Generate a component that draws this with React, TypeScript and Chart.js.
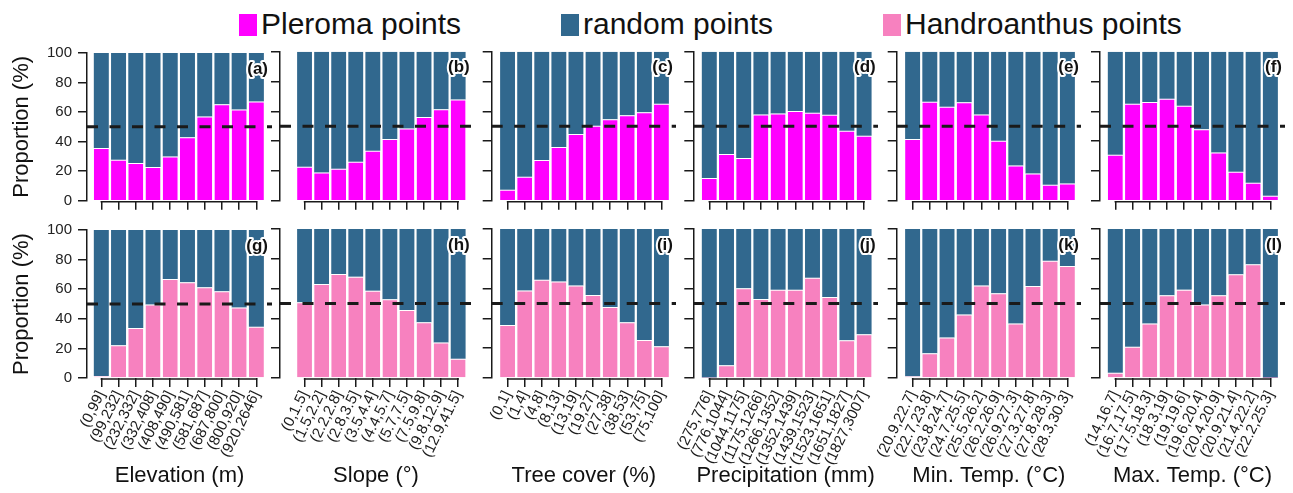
import React, { useEffect, useRef } from 'react';
import { Chart, registerables } from 'chart.js';

Chart.register(...registerables);

// ---------- categories (bins) ----------
const elevationBins = ['(0,99]', '(99,232]', '(232,332]', '(332,408]', '(408,490]', '(490,581]', '(581,687]', '(687,800]', '(800,920]', '(920,2646]'];
const slopeBins = ['(0,1.5]', '(1.5,2.2]', '(2.2,2.8]', '(2.8,3.5]', '(3.5,4.4]', '(4.4,5.7]', '(5.7,7.5]', '(7.5,9.8]', '(9.8,12.9]', '(12.9,41.5]'];
const treeCoverBins = ['(0,1]', '(1,4]', '(4,8]', '(8,13]', '(13,19]', '(19,27]', '(27,38]', '(38,53]', '(53,75]', '(75,100]'];
const precipBins = ['(275,776]', '(776,1044]', '(1044,1175]', '(1175,1266]', '(1266,1352]', '(1352,1439]', '(1439,1523]', '(1523,1651]', '(1651,1827]', '(1827,3007]'];
const minTempBins = ['(20.9,22.7]', '(22.7,23.8]', '(23.8,24.7]', '(24.7,25.5]', '(25.5,26.2]', '(26.2,26.9]', '(26.9,27.3]', '(27.3,27.8]', '(27.8,28.3]', '(28.3,30.3]'];
const maxTempBins = ['(14,16.7]', '(16.7,17.5]', '(17.5,18.3]', '(18.3,19]', '(19,19.6]', '(19.6,20.4]', '(20.4,20.9]', '(20.9,21.4]', '(21.4,22.2]', '(22.2,25.3]'];

const yTicks = [0, 20, 40, 60, 80, 100];
const referenceLine = 50;

// ---------- Pleroma vs random (%) ----------
const pleromaElevation = [35.6, 27.7, 25.5, 22.8, 30.0, 43.0, 57.0, 65.3, 61.7, 67.1];
const randomElevationP = [64.4, 72.3, 74.5, 77.2, 70.0, 57.0, 43.0, 34.7, 38.3, 32.9];
const pleromaSlope = [22.8, 19.0, 21.5, 26.2, 33.6, 41.4, 48.5, 56.2, 61.3, 68.0];
const randomSlopeP = [77.2, 81.0, 78.5, 73.8, 66.4, 58.6, 51.5, 43.8, 38.7, 32.0];
const pleromaTree = [7.4, 16.1, 27.3, 36.0, 44.7, 50.3, 54.6, 57.3, 59.3, 65.1];
const randomTreeP = [92.6, 83.9, 72.7, 64.0, 55.3, 49.7, 45.4, 42.7, 40.7, 34.9];
const pleromaPrecip = [15.2, 31.3, 28.6, 57.9, 58.6, 60.2, 59.1, 57.7, 47.0, 43.6];
const randomPrecipP = [84.8, 68.7, 71.4, 42.1, 41.4, 39.8, 40.9, 42.3, 53.0, 56.4];
const pleromaMinTemp = [41.4, 66.4, 63.1, 66.0, 57.9, 40.3, 23.7, 18.3, 10.7, 11.6];
const randomMinTempP = [58.6, 33.6, 36.9, 34.0, 42.1, 59.7, 76.3, 81.7, 89.3, 88.4];
const pleromaMaxTemp = [30.9, 65.1, 66.2, 68.5, 63.8, 47.9, 32.4, 19.5, 12.1, 3.4];
const randomMaxTempP = [69.1, 34.9, 33.8, 31.5, 36.2, 52.1, 67.6, 80.5, 87.9, 96.6];

// ---------- Handroanthus vs random (%) ----------
const handroElevation = [1.3, 22.1, 33.8, 49.7, 66.9, 64.7, 61.3, 58.6, 47.7, 34.7];
const randomElevationH = [98.7, 77.9, 66.2, 50.3, 33.1, 35.3, 38.7, 41.4, 52.3, 65.3];
const handroSlope = [50.8, 63.1, 69.8, 68.0, 58.6, 52.8, 45.6, 37.4, 23.9, 13.0];
const randomSlopeH = [49.2, 36.9, 30.2, 32.0, 41.4, 47.2, 54.4, 62.6, 76.1, 87.0];
const handroTree = [35.6, 58.8, 66.0, 64.7, 62.0, 55.7, 47.7, 37.4, 25.5, 21.3];
const randomTreeH = [64.4, 41.2, 34.0, 35.3, 38.0, 44.3, 52.3, 62.6, 74.5, 78.7];
const handroPrecip = [0.3, 8.5, 60.2, 53.0, 59.3, 59.3, 67.3, 54.4, 25.3, 29.3];
const randomPrecipH = [99.7, 91.5, 39.8, 47.0, 40.7, 40.7, 32.7, 45.6, 74.7, 70.7];
const handroMinTemp = [1.1, 16.6, 27.1, 42.7, 62.0, 56.8, 36.5, 61.7, 78.7, 75.2];
const randomMinTempH = [98.9, 83.4, 72.9, 57.3, 38.0, 43.2, 63.5, 38.3, 21.3, 24.8];
const handroMaxTemp = [3.6, 21.0, 36.5, 55.5, 59.3, 49.4, 55.5, 69.6, 76.3, 0.2];
const randomMaxTempH = [96.4, 79.0, 63.5, 44.5, 40.7, 50.6, 44.5, 30.4, 23.7, 99.8];

const xTitles = ['Elevation (m)', 'Slope (°)', 'Tree cover (%)', 'Precipitation (mm)', 'Min. Temp. (°C)', 'Max. Temp. (°C)'];
const binsByColumn = [elevationBins, slopeBins, treeCoverBins, precipBins, minTempBins, maxTempBins];
const topMain = [pleromaElevation, pleromaSlope, pleromaTree, pleromaPrecip, pleromaMinTemp, pleromaMaxTemp];
const topRest = [randomElevationP, randomSlopeP, randomTreeP, randomPrecipP, randomMinTempP, randomMaxTempP];
const bottomMain = [handroElevation, handroSlope, handroTree, handroPrecip, handroMinTemp, handroMaxTemp];
const bottomRest = [randomElevationH, randomSlopeH, randomTreeH, randomPrecipH, randomMinTempH, randomMaxTempH];
const topLetters = ['(a)', '(b)', '(c)', '(d)', '(e)', '(f)'];
const bottomLetters = ['(g)', '(h)', '(i)', '(j)', '(k)', '(l)'];

// ---------- layout / style ----------
const FONT = "'Liberation Sans', Arial, Helvetica, sans-serif";
const COLOR_PLEROMA = '#ff00ff';
const COLOR_RANDOM = '#31688e';
const COLOR_HANDRO = '#f781bf';
const INK = '#1a1a1a';
const W = 1293;
const H = 493;

const COLS = [
  { axis: 87, b0: 92.7, b1: 265, right: 272 },
  { axis: 280, b0: 296, b1: 466.7, right: 472 },
  { axis: 491.7, b0: 499, b1: 670, right: 676 },
  { axis: 693.3, b0: 700.7, b1: 872.7, right: 878 },
  { axis: 896.7, b0: 904, b1: 1076, right: 1081 },
  { axis: 1100, b0: 1106.7, b1: 1279, right: 1285 },
];
const ROWS = [
  { top: 51.7, bottom: 200.7 },
  { top: 229, bottom: 378 },
];

type PanelProps = {
  row: number;
  col: number;
  labels: string[];
  main: number[];
  rest: number[];
  mainLabel: string;
  mainColor: string;
  letter: string;
};

function Panel({ row, col, labels, main, rest, mainLabel, mainColor, letter }: PanelProps) {
  const ref = useRef<HTMLCanvasElement | null>(null);
  const c = COLS[col];
  const r = ROWS[row];
  const cLeft = col === 0 ? 0 : Math.round(c.axis - 72);
  const cRight = Math.round(c.right + 8);
  const cTop = Math.round(r.top - 14);
  const cBottom = row === 0 ? Math.round(r.bottom + 24) : H;
  const cw = cRight - cLeft;
  const ch = cBottom - cTop;

  useEffect(() => {
    const canvas = ref.current;
    if (!canvas) return;
    const catW = (c.b1 - c.b0) / labels.length;
    const xMin = -0.5 - (c.b0 - c.axis) / catW;
    const xMax = labels.length - 0.5 + (c.right - c.b1) / catW;
    const isBottom = row === 1;

    const overlay = {
      id: 'overlay' + row + col,
      afterDatasetsDraw(chart: any) {
        const { ctx, chartArea, scales } = chart;
        const xs = scales.x;
        const ys = scales.y;
        ctx.save();
        // trimmed x spine
        ctx.strokeStyle = INK;
        ctx.lineWidth = 1.5;
        ctx.beginPath();
        ctx.moveTo(xs.getPixelForValue(0) - 0.75, chartArea.bottom + 1);
        ctx.lineTo(xs.getPixelForValue(labels.length - 1) + 0.75, chartArea.bottom + 1);
        ctx.stroke();
        // 50% reference line
        const yy = ys.getPixelForValue(referenceLine);
        ctx.setLineDash([11, 11.5]);
        ctx.lineWidth = 3;
        ctx.strokeStyle = INK;
        ctx.beginPath();
        ctx.moveTo(chartArea.left, yy);
        ctx.lineTo(chartArea.right, yy);
        ctx.stroke();
        ctx.setLineDash([]);
        // panel letter
        ctx.font = `bold 17px ${FONT}`;
        ctx.textAlign = 'right';
        ctx.textBaseline = 'middle';
        ctx.lineJoin = 'round';
        ctx.lineWidth = 4;
        ctx.strokeStyle = '#ffffff';
        const lx = c.b1 + 3 - cLeft;
        const ly = chartArea.top + 16;
        ctx.strokeText(letter, lx, ly);
        ctx.fillStyle = '#111111';
        ctx.fillText(letter, lx, ly);
        ctx.restore();
      },
    };

    const chart = new Chart(canvas, {
      type: 'bar',
      data: {
        datasets: [
          {
            label: mainLabel,
            data: main.map((v, i) => ({ x: i, y: v })),
            backgroundColor: mainColor,
            borderColor: 'rgba(255,255,255,0.85)',
            borderWidth: { top: 1, left: 0, right: 0, bottom: 0 },
            borderSkipped: 'start',
            barPercentage: 0.87,
            categoryPercentage: 1,
          },
          {
            label: 'random points',
            data: rest.map((v, i) => ({ x: i, y: v })),
            backgroundColor: COLOR_RANDOM,
            borderWidth: 0,
            barPercentage: 0.87,
            categoryPercentage: 1,
          },
        ],
      },
      options: {
        animation: false,
        responsive: false,
        maintainAspectRatio: false,
        events: [],
        layout: {
          padding: { left: 0, right: cRight - c.right, top: r.top - cTop, bottom: 0 },
        },
        plugins: {
          legend: { display: false },
          tooltip: { enabled: false },
          title: { display: false },
        },
        scales: {
          x: {
            type: 'linear',
            stacked: true,
            offset: false,
            min: xMin,
            max: xMax,
            afterBuildTicks: (scale: any) => {
              scale.ticks = labels.map((_, i) => ({ value: i }));
            },
            afterFit: (scale: any) => {
              scale.height = cBottom - r.bottom;
            },
            grid: {
              display: true,
              offset: false,
              drawOnChartArea: false,
              drawTicks: true,
              tickLength: 9,
              color: INK,
              lineWidth: 1.5,
            },
            border: { display: false },
            ticks: {
              display: isBottom,
              autoSkip: false,
              maxRotation: 64,
              minRotation: 64,
              padding: 1,
              color: INK,
              font: { family: FONT, size: 15 },
              callback: (v: any) => labels[v as number] ?? '',
            },
            title: {
              display: isBottom,
              text: xTitles[col],
              color: '#111111',
              font: { family: FONT, size: 22 },
              padding: { top: 0, bottom: 4 },
            },
          },
          y: {
            stacked: true,
            min: 0,
            max: 100,
            afterBuildTicks: (scale: any) => {
              scale.ticks = yTicks.map((v) => ({ value: v }));
            },
            afterFit: (scale: any) => {
              scale.width = c.axis - cLeft;
            },
            grid: {
              display: true,
              drawOnChartArea: false,
              drawTicks: true,
              tickLength: 9,
              color: INK,
              lineWidth: 1.5,
            },
            border: { display: true, color: INK, width: 1.5 },
            ticks: {
              display: col === 0,
              padding: 6,
              color: '#222222',
              font: { family: FONT, size: 15 },
            },
            title: {
              display: col === 0,
              text: 'Proportion (%)',
              color: '#111111',
              font: { family: FONT, size: 22 },
              padding: { top: 9, bottom: 0 },
            },
          },
        },
      },
      plugins: [overlay],
    } as any);
    return () => chart.destroy();
  }, []);

  return (
    <canvas
      ref={ref}
      width={cw}
      height={ch}
      style={{ position: 'absolute', left: cLeft, top: cTop, width: cw, height: ch }}
    />
  );
}

const legendItems = [
  { text: 'Pleroma points', color: COLOR_PLEROMA, sq: 239, tx: 261 },
  { text: 'random points', color: COLOR_RANDOM, sq: 561, tx: 583 },
  { text: 'Handroanthus points', color: COLOR_HANDRO, sq: 883, tx: 905 },
];

export default function App() {
  return (
    <div
      style={{
        position: 'fixed',
        left: 0,
        top: 0,
        width: W,
        height: H,
        background: '#ffffff',
        overflow: 'hidden',
        fontFamily: FONT,
      }}
    >
      {legendItems.map((it) => (
        <React.Fragment key={it.text}>
          <div
            style={{
              position: 'absolute',
              left: it.sq,
              top: 14,
              width: 18,
              height: 22,
              background: it.color,
            }}
          />
          <div
            style={{
              position: 'absolute',
              left: it.tx,
              top: 9,
              fontSize: 30,
              lineHeight: '30px',
              color: '#111111',
              whiteSpace: 'nowrap',
            }}
          >
            {it.text}
          </div>
        </React.Fragment>
      ))}
      {binsByColumn.map((bins, col) => (
        <Panel
          key={'t' + col}
          row={0}
          col={col}
          labels={bins}
          main={topMain[col]}
          rest={topRest[col]}
          mainLabel="Pleroma points"
          mainColor={COLOR_PLEROMA}
          letter={topLetters[col]}
        />
      ))}
      {binsByColumn.map((bins, col) => (
        <Panel
          key={'b' + col}
          row={1}
          col={col}
          labels={bins}
          main={bottomMain[col]}
          rest={bottomRest[col]}
          mainLabel="Handroanthus points"
          mainColor={COLOR_HANDRO}
          letter={bottomLetters[col]}
        />
      ))}
    </div>
  );
}
